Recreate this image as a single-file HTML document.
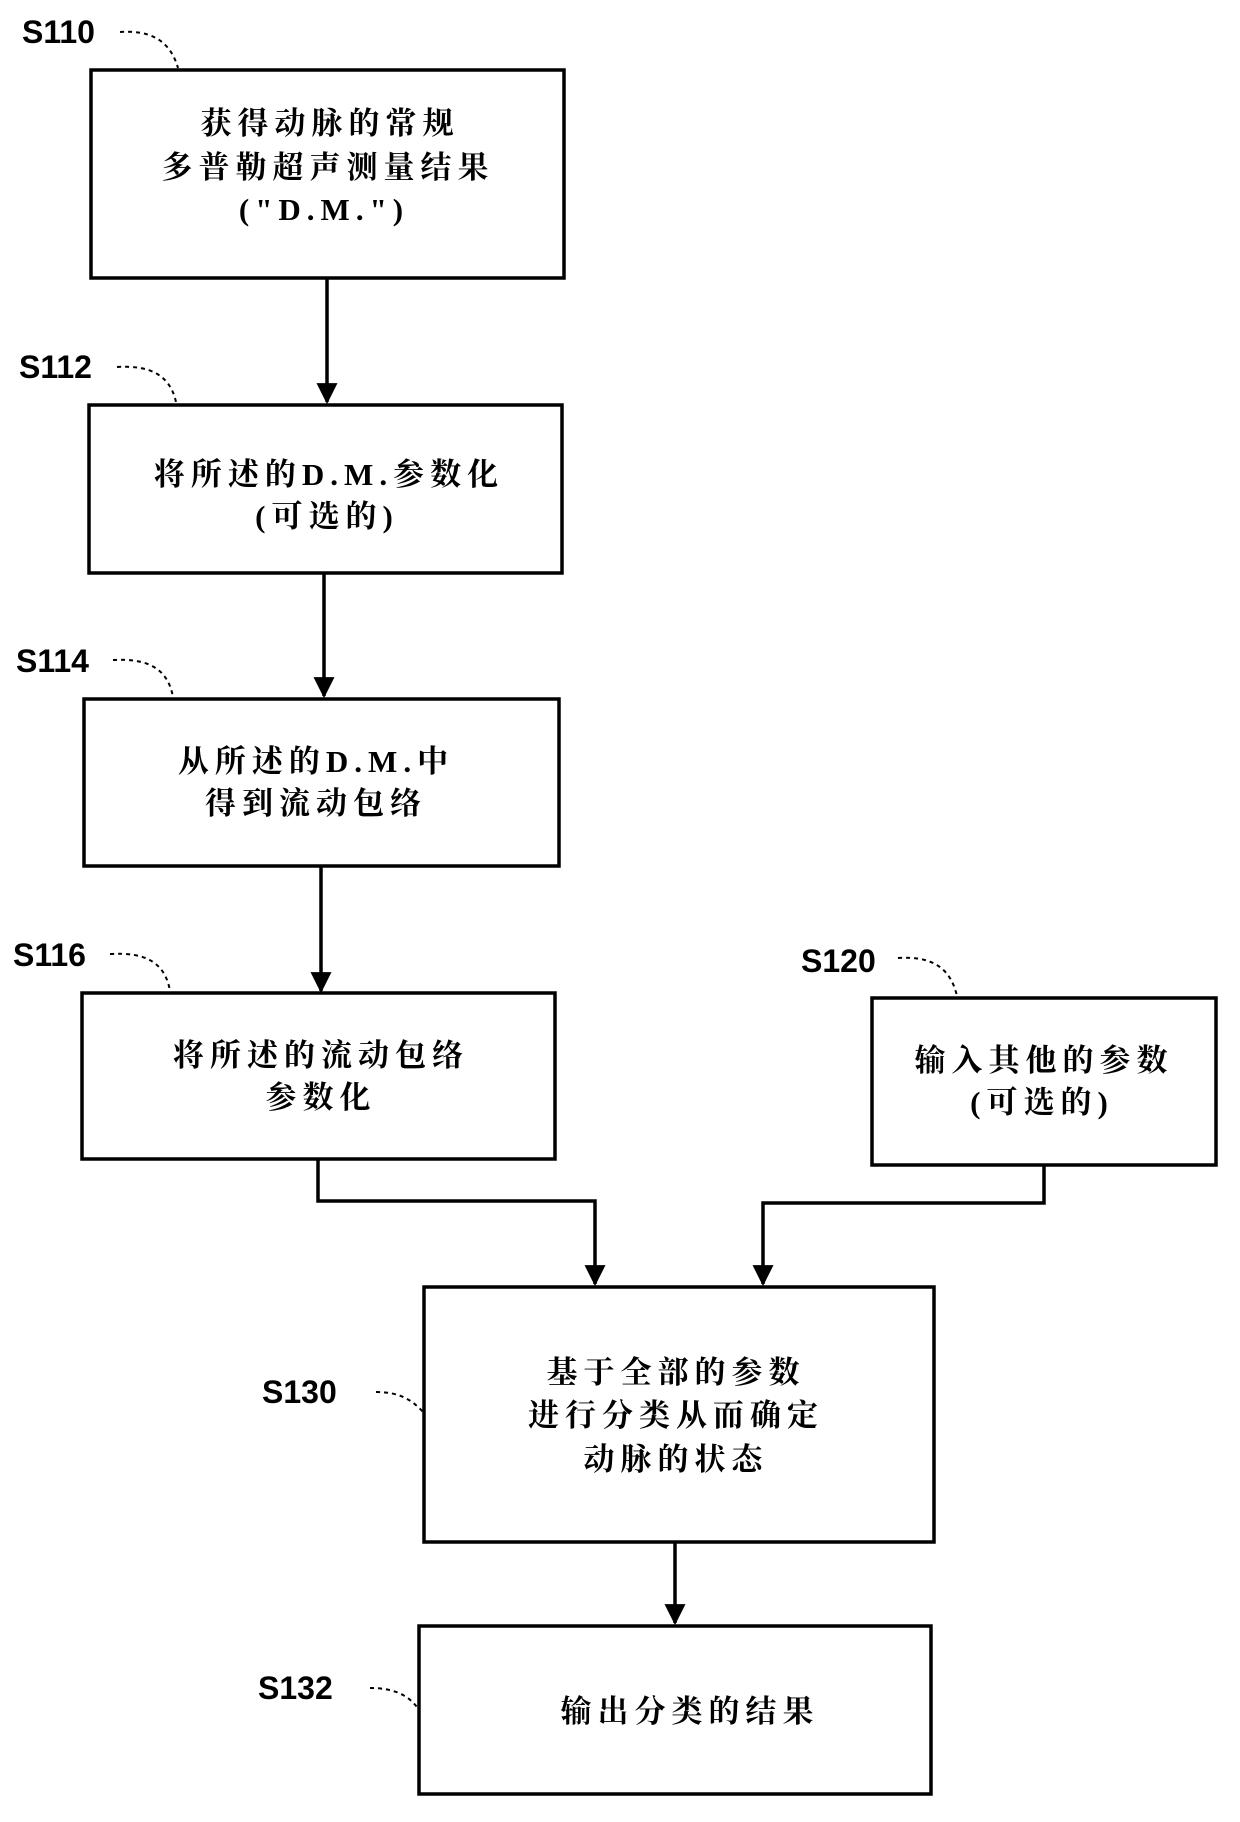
<!DOCTYPE html>
<html><head><meta charset="utf-8"><style>
html,body{margin:0;padding:0;background:#fff;width:1240px;height:1822px;overflow:hidden}
svg{display:block}
.l{font-family:"Liberation Sans",sans-serif;font-size:32px;font-weight:bold;fill:#000}
.t{font-family:"Liberation Serif","Noto Serif CJK SC",serif;font-size:31px;font-weight:bold;fill:#000;text-anchor:middle;letter-spacing:6px}
.b{fill:#fff;stroke:#000;stroke-width:3.5}
.c{fill:none;stroke:#000;stroke-width:3.5}
.d{fill:none;stroke:#000;stroke-width:2;stroke-dasharray:4 4}
</style></head><body>
<svg width="1240" height="1822" viewBox="0 0 1240 1822">
<defs><marker id="a" viewBox="0 0 10 10" refX="9" refY="5" markerWidth="6" markerHeight="6" orient="auto"><path d="M0,0 L10,5 L0,10 z" fill="#000"/></marker></defs>
<text class="l" x="22" y="43">S110</text>
<path class="d" d="M120,32 C150,30 170,40 178,68"/>
<rect class="b" x="91" y="70" width="473" height="208"/>
<text class="t" x="330" y="134">获得动脉的常规</text>
<text class="t" x="328" y="178">多普勒超声测量结果</text>
<text class="t" x="324" y="220">("D.M.")</text>
<line class="c" x1="327" y1="278" x2="327" y2="402" marker-end="url(#a)"/>
<text class="l" x="19" y="378">S112</text>
<path class="d" d="M117,367 C150,365 170,375 176,402"/>
<rect class="b" x="89" y="405" width="473" height="168"/>
<text class="t" x="329" y="485">将所述的D.M.参数化</text>
<text class="t" x="327" y="527">(可选的)</text>
<line class="c" x1="324" y1="573" x2="324" y2="696" marker-end="url(#a)"/>
<text class="l" x="16" y="672">S114</text>
<path class="d" d="M113,660 C150,658 168,670 173,697"/>
<rect class="b" x="84" y="699" width="475" height="167"/>
<text class="t" x="316" y="772">从所述的D.M.中</text>
<text class="t" x="316" y="814">得到流动包络</text>
<line class="c" x1="321" y1="866" x2="321" y2="991" marker-end="url(#a)"/>
<text class="l" x="13" y="966">S116</text>
<path class="d" d="M110,954 C145,952 165,962 170,991"/>
<rect class="b" x="82" y="993" width="473" height="166"/>
<text class="t" x="321" y="1066">将所述的流动包络</text>
<text class="t" x="321" y="1108">参数化</text>
<text class="l" x="801" y="972">S120</text>
<path class="d" d="M898,958 C930,956 950,966 957,996"/>
<rect class="b" x="872" y="998" width="344" height="167"/>
<text class="t" x="1044" y="1071">输入其他的参数</text>
<text class="t" x="1042" y="1113">(可选的)</text>
<polyline class="c" points="318,1159 318,1201 595,1201 595,1284" marker-end="url(#a)"/>
<polyline class="c" points="1044,1165 1044,1203 763,1203 763,1284" marker-end="url(#a)"/>
<text class="l" x="262" y="1403">S130</text>
<path class="d" d="M376,1392 C400,1392 412,1400 423,1412"/>
<rect class="b" x="424" y="1287" width="510" height="255"/>
<text class="t" x="676" y="1383">基于全部的参数</text>
<text class="t" x="676" y="1426">进行分类从而确定</text>
<text class="t" x="676" y="1470">动脉的状态</text>
<line class="c" x1="675" y1="1542" x2="675" y2="1623" marker-end="url(#a)"/>
<text class="l" x="258" y="1699">S132</text>
<path class="d" d="M370,1688 C395,1688 410,1696 419,1710"/>
<rect class="b" x="419" y="1626" width="512" height="168"/>
<text class="t" x="690" y="1722">输出分类的结果</text>
</svg>
</body></html>
